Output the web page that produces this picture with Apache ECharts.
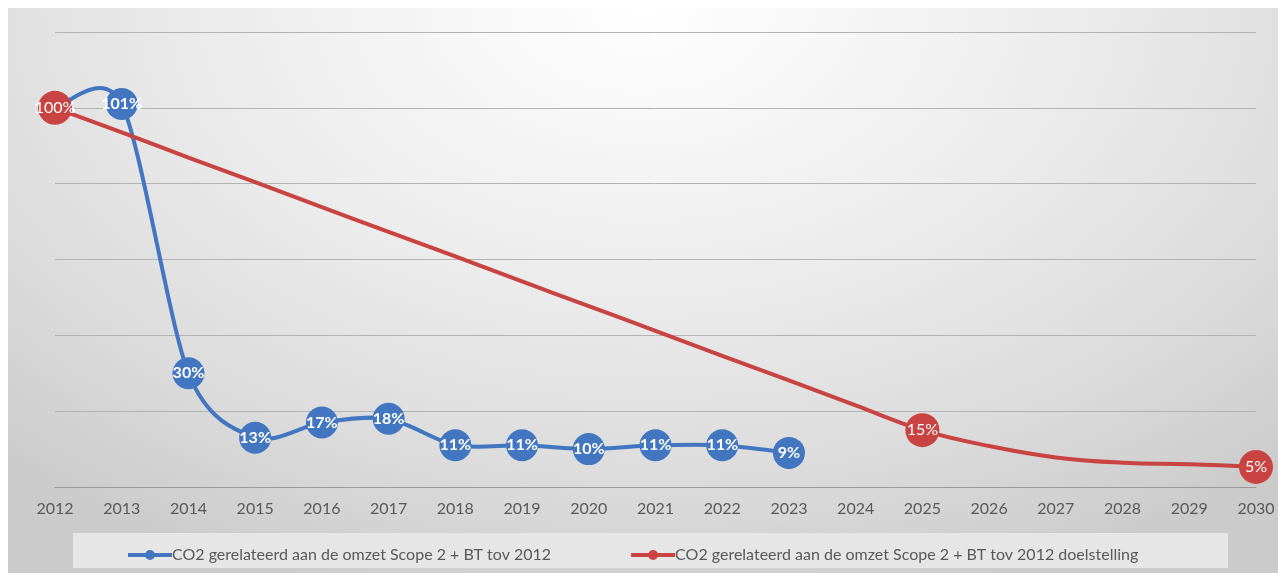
<!DOCTYPE html>
<html>
<head>
<meta charset="utf-8">
<script src="https://cdn.jsdelivr.net/npm/echarts@6/dist/echarts.min.js"></script>
<style type="text/css">
  html, body {margin:0; padding:0; background:#fff;}
  #wrap {position:relative; width:1278px; height:573px; overflow:hidden;}
  #bg {position:absolute; left:8px; top:8px; width:1270px; height:565px;
       background:radial-gradient(ellipse 75% 110% at 50% 0%, #ffffff 0%, #ececec 45%, #dcdcdc 75%, #cbcbcb 100%);}
  #chart {position:absolute; left:0; top:0; width:1278px; height:573px;}
</style>
</head>
<body>
<div id="wrap">
  <div id="bg"></div>
  <div id="chart"></div>
</div>
<script type="text/javascript">
  // jaren
  var years = ['2012','2013','2014','2015','2016','2017','2018','2019','2020','2021',
               '2022','2023','2024','2025','2026','2027','2028','2029','2030'];
  // werkelijk (%)
  var actual = [100, 101, 30, 13, 17, 18, 11, 11, 10, 11, 11, 9];
  var target = [100, 93.5, 86.9, 80.4, 73.8, 67.3, 60.8, 54.2, 47.7, 41.2,
                34.6, 28.1, 21.5, 15, 10.8, 7.8, 6.4, 6.0, 5.3];
  var targetLabels = {0:'100%', 13:'15%', 18:'5%'};
  var yTicks = [0, 20, 40, 60, 80, 100, 120];

  var blue = '#4276c0';
  var red = '#c84341';
  var nameA = 'CO2 gerelateerd aan de omzet Scope 2 + BT tov 2012';
  var nameB = 'CO2 gerelateerd aan de omzet Scope 2 + BT tov 2012 doelstelling';
  // lijn met bolletje voor de legenda
  var legendIcon = 'path://M0,3H44V7H0Z M17,5A5,5,0,1,1,27,5A5,5,0,1,1,17,5Z';

  var redData = target.map(function (v, i) {
    if (targetLabels[i]) {
      return {value: v, symbolSize: 34,
              label: {show: true, formatter: targetLabels[i]}};
    }
    return {value: v, symbol: 'none', label: {show: false}};
  });

  // excel-achtige gladde lijn (catmull-rom), punten via de assen
  function smoothPath(values, api) {
    var pts = values.map(function (v, i) { return api.coord([i, v]); });
    var k = 7;
    var d = 'M' + pts[0][0] + ',' + pts[0][1];
    for (var i = 0; i < pts.length - 1; i++) {
      var p0 = pts[Math.max(i - 1, 0)], p1 = pts[i], p2 = pts[i + 1], p3 = pts[Math.min(i + 2, pts.length - 1)];
      var c1x = p1[0] + (p2[0] - p0[0]) / k, c1y = p1[1] + (p2[1] - p0[1]) / k;
      var c2x = p2[0] - (p3[0] - p1[0]) / k, c2y = p2[1] - (p3[1] - p1[1]) / k;
      d += 'C' + c1x + ',' + c1y + ',' + c2x + ',' + c2y + ',' + p2[0] + ',' + p2[1];
    }
    return d;
  }

  var chart = echarts.init(document.getElementById('chart'));
  chart.setOption({
    backgroundColor: 'transparent',
    animation: false,
    textStyle: {fontFamily: 'Lato, "Open Sans", sans-serif'},
    graphic: [{
      type: 'rect', left: 73, top: 533, z: -1,
      shape: {width: 1155, height: 35},
      style: {fill: '#e6e6e6'}
    }],
    grid: {left: 55, right: 22, top: 32, bottom: 86},
    xAxis: {
      type: 'category', data: years, boundaryGap: false,
      axisLine: {lineStyle: {color: '#9a9a9a', width: 1}},
      axisTick: {show: false},
      axisLabel: {color: '#595959', fontSize: 16, margin: 14}
    },
    yAxis: {
      type: 'value', min: yTicks[0], max: yTicks[yTicks.length - 1], interval: 20,
      axisLabel: {show: false},
      axisLine: {show: false}, axisTick: {show: false},
      splitLine: {lineStyle: {color: '#b3b3b3', width: 1}}
    },
    legend: {
      left: 123, top: 542, itemGap: 80, itemWidth: 44, itemHeight: 10,
      textStyle: {color: '#595959', fontSize: 16, padding: [0, 0, 0, -5]},
      data: [{name: nameA, icon: legendIcon, itemStyle: {color: blue}},
             {name: nameB, icon: legendIcon, itemStyle: {color: red}}]
    },
    series: [{
      type: 'custom', name: 'lijnA', data: [[0, 0]], z: 2, silent: true,
      renderItem: function (params, api) {
        return {
          type: 'path',
          shape: {pathData: smoothPath(actual, api)},
          style: {fill: 'none', stroke: blue, lineWidth: 4}
        };
      }
    }, {
      name: nameA,
      type: 'line', data: actual, z: 3,
      symbol: 'circle', symbolSize: 32,
      lineStyle: {color: blue, width: 4, opacity: 0},
      itemStyle: {color: blue},
      label: {show: true, position: 'inside', color: '#fff', fontSize: 16, fontWeight: 'bold',
              formatter: '{c}%'}
    }, {
      name: nameB,
      type: 'line', smooth: 0.4, data: redData, z: 4,
      symbol: 'circle', symbolSize: 34,
      lineStyle: {color: red, width: 4},
      itemStyle: {color: red},
      label: {position: 'inside', color: '#fff', fontSize: 16}
    }]
  });
</script>
</body>
</html>
